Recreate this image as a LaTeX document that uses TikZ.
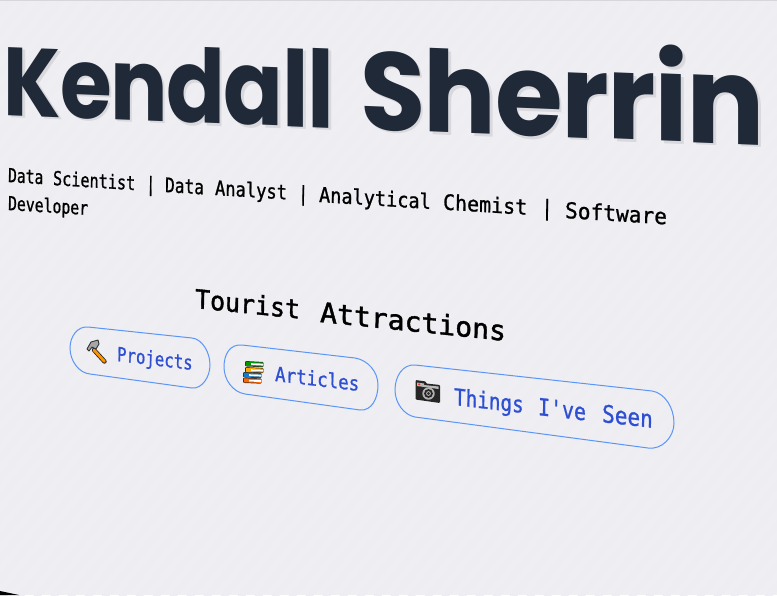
\documentclass[tikz,border=0pt]{standalone}
\usepackage{fontspec}
\setmainfont{DejaVu Sans Mono}
\newfontfamily\headfont[BoldFont={Poppins Bold}]{Poppins}
\newfontfamily\monomed[FakeBold=1.5]{DejaVu Sans Mono}
\newfontfamily\monosub[FakeBold=1.0]{DejaVu Sans Mono}
\definecolor{paper}{HTML}{EEEEF3}
\definecolor{stripe}{HTML}{EDEDF2}
\definecolor{titleink}{HTML}{1F2937}
\definecolor{shade}{HTML}{D8D8DD}
\definecolor{linkink}{HTML}{2F4FD3}
\definecolor{pillline}{HTML}{5B96F7}
\definecolor{topline}{HTML}{D6D6DC}
\makeatletter
\newcommand\growrun[4]{\begingroup\edef\gs{#1}\color{#4}\@tfor\gl:=#3\do{%
  \fontsize{\gs pt}{\gs pt}\selectfont\gl\kern-1.6pt\pgfmathsetmacro\gs{\gs+#2}}\endgroup}
\newcommand\growtext[3]{\headfont\bfseries\rlap{\kern3pt\raisebox{-2.5pt}{\growrun{#1}{#2}{#3}{shade}}}\growrun{#1}{#2}{#3}{titleink}}
\makeatother
\tikzset{
  tx/.style={anchor=base west,inner sep=0pt,outer sep=0pt,transform shape,text=black,font=\fontsize{10pt}{12pt}\monosub},
  hd/.style={tx,font=\fontsize{10pt}{12pt}\monomed},
  lk/.style={tx,text=linkink,font=\fontsize{10pt}{12pt}\monosub},
  pill/.style={draw=pillline,line width=1pt},
}
\newcommand\tw[9][tx]{\node[#1,rotate=-#5,xslant=#8,xscale=#6,yscale=#7] (#2) at (#3,#4) {#9};}
\begin{document}
\begin{tikzpicture}[x=1pt,y=-1pt]
\useasboundingbox (0,0) rectangle (777,595);
\fill[paper] (0,0) rectangle (777,595);
\begin{scope}
\clip (0,0) rectangle (777,595);
\foreach \i in {-40,...,50} \draw[stripe,line width=6pt] (17*\i,600) -- ++(520,-620);
\end{scope}
\fill[topline] (0,0) rectangle (777,1);
\fill[black] (0,591) -- (19,595) -- (0,595) -- cycle;
% title
\tw{kendall}{4}{115}{2.3}{0.85}{1}{-0.04}{\growtext{97}{1.7}{Kendall}}
\tw{sherrin}{360}{129}{2.3}{0.958}{1}{-0.04}{\growtext{111}{1.8}{Sherrin}}
% subtitle
\tw{s1}{8}{182}{3.6}{1.47}{1.92}{-0.05}{Data}
\tw{s2}{53}{185}{3.6}{1.52}{1.94}{-0.05}{Scientist}
\tw{s3}{146}{191}{3.6}{1.55}{2.0}{-0.05}{|}
\tw{s4}{165}{192}{3.6}{1.62}{2.0}{-0.05}{Data}
\tw{s5}{215}{195}{3.6}{1.71}{2.02}{-0.05}{Analyst}
\tw{s6}{298}{200.5}{3.6}{1.71}{2.05}{-0.05}{|}
\tw{s7}{319}{202}{3.6}{1.86}{2.08}{-0.05}{Analytical}
\tw{s8}{443}{209.5}{3.6}{2.0}{2.12}{-0.05}{Chemist}
\tw{s9}{541}{215}{3.6}{2.0}{2.15}{-0.05}{|}
\tw{s10}{565}{218}{3.6}{2.12}{2.2}{-0.05}{Software}
\tw{s11}{8}{210}{3.6}{1.48}{1.92}{-0.05}{Developer}
% heading
\tw[hd]{h1}{195}{308}{5.8}{2.5}{2.6}{-0.08}{Tourist}
\tw[hd]{h2}{320}{322}{5.8}{2.82}{2.75}{-0.08}{Attractions}
% pills
\draw[pill] (88,327) -- (192,338) .. controls (202,339) and (210,352) .. (210,365)
  .. controls (210,377) and (202,389) .. (192,388) -- (90,374)
  .. controls (79,373) and (70,361) .. (70,348) .. controls (70,336) and (78,326) .. (88,327) -- cycle;
\draw[pill] (242,345) -- (355,358) .. controls (368,360) and (378,372) .. (378,385)
  .. controls (378,398) and (372,411) .. (360,410) -- (245,394)
  .. controls (233,392) and (224,380) .. (224,367) .. controls (224,354) and (230,344) .. (242,345) -- cycle;
\draw[pill] (415,365) -- (652,391) .. controls (665,393) and (674,408) .. (674,423)
  .. controls (674,437) and (662,450) .. (648,448) -- (415,417)
  .. controls (404,415) and (395,403) .. (395,390) .. controls (395,376) and (403,364) .. (415,365) -- cycle;
% link labels
\tw[lk]{l1}{117}{361}{6.8}{1.58}{1.95}{-0.1}{Projects}
\tw[lk]{l2}{275}{381}{6.8}{1.76}{2.0}{-0.1}{Articles}
\tw[lk]{l3}{454}{405}{6.6}{1.94}{2.3}{-0.1}{Things}
\tw[lk]{l4}{538}{415}{6.6}{2.0}{2.35}{-0.1}{I've}
\tw[lk]{l5}{602}{422}{6.6}{2.12}{2.4}{-0.1}{Seen}
% hammer
\draw[black!85,line width=4.4pt,line cap=round] (94,350) -- (104.5,361.5);
\draw[orange!85!yellow,line width=2.8pt,line cap=round] (94,350) -- (104.5,361.5);
\fill[gray!70,draw=black!80,line width=0.9pt,line join=round] (87,349) -- (91,342) -- (98,340) -- (99,344) -- (96,349) -- (92,347) -- (89,351) -- cycle;
% books
\foreach \yy/\cc/\xx in {361/green!60!black/245,367/orange!70!yellow/245,372/cyan!60!blue/243,377.5/orange!80!red/243} {
  \fill[black!80,rounded corners=1pt] (\xx,\yy) -- (\xx+18.5,\yy+1) -- (\xx+18.5,\yy+6.2) -- (\xx,\yy+5.4) -- cycle;
  \fill[\cc] (\xx+1,\yy+.8) -- (\xx+18,\yy+1.6) -- (\xx+18,\yy+2.6) -- (\xx+6,\yy+2.2) -- (\xx+6,\yy+4) -- (\xx+18,\yy+4.6) -- (\xx+18,\yy+5.4) -- (\xx+1,\yy+4.8) -- cycle;
  \fill[white] (\xx+6,\yy+2.2) -- (\xx+18.4,\yy+2.6) -- (\xx+18.4,\yy+4.6) -- (\xx+6,\yy+4) -- cycle;
}
% camera
\fill[black!85,rounded corners=1pt] (415.5,380) -- (426,381.5) -- (426,383.5) -- (440,385) -- (440,403) -- (415.5,399.5) -- cycle;
\fill[gray!55] (417,382.5) -- (424,383.5) -- (424,385) -- (438.5,386.5) -- (438.5,389) -- (417,386) -- cycle;
\fill[red!75!orange] (419.2,384.3) circle (1.1pt);
\fill[gray!60] (428.5,393.5) circle (6.2pt);
\fill[black!85] (428.5,393.5) circle (4.4pt);
\fill[gray!60] (428.5,393.5) circle (2.4pt);
\fill[black!80] (428.5,393.5) circle (1.6pt);
\end{tikzpicture}
\end{document}
